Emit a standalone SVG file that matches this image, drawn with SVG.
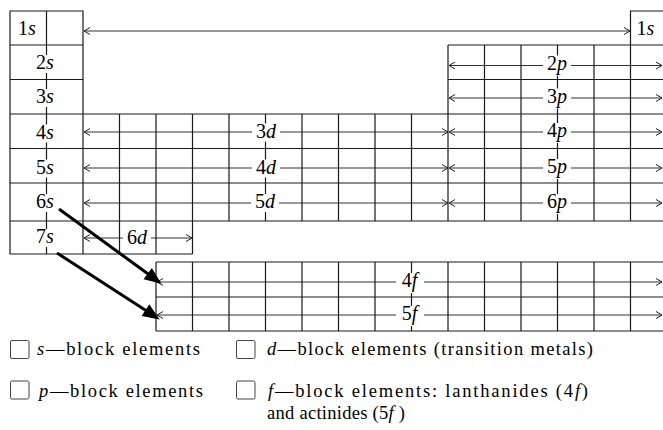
<svg xmlns="http://www.w3.org/2000/svg" width="663" height="430" viewBox="0 0 663 430">
<style>
.g{fill:none;stroke:#1a1a1a;stroke-width:1.2}
.a{fill:none;stroke:#333;stroke-width:1;marker-start:url(#ch);marker-end:url(#ch)}
.big{fill:none;stroke:#000;stroke-width:3;marker-end:url(#bh)}
.bg{fill:#fff;stroke:none}
.l{font-family:"Liberation Serif","Times New Roman",serif;font-size:20px;fill:#000;text-anchor:middle}
.i{font-style:italic}
.lg{font-family:"Liberation Serif","Times New Roman",serif;font-size:18.5px;fill:#000}
.bx{fill:#fff;stroke:#444;stroke-width:1}
</style>
<defs>
<marker id="ch" viewBox="-8 -5 10 10" refX="0" refY="0" markerWidth="10" markerHeight="10" markerUnits="userSpaceOnUse" orient="auto-start-reverse"><path d="M-6,-3.5 L0,0 L-6,3.5" fill="none" stroke="#222" stroke-width="1"/></marker>
<marker id="bh" viewBox="-10 -8 20 16" refX="-8" refY="0" markerWidth="20" markerHeight="16" markerUnits="userSpaceOnUse" orient="auto"><path d="M-9,-7 L8,0 L-9,7 Z" fill="#000"/></marker>
</defs>
<rect width="663" height="430" fill="#fff"/>

<g id="connectors">
<path class="a" d="M84,31 H630"/>
<path class="a" d="M449,65.5 H662"/>
<path class="a" d="M449,98 H662"/>
<path class="a" d="M84,132 H448"/>
<path class="a" d="M449,132 H662"/>
<path class="a" d="M84,168 H448"/>
<path class="a" d="M449,168 H662"/>
<path class="a" d="M84,203 H448"/>
<path class="a" d="M449,203 H662"/>
<path class="a" d="M84,238 H192"/>
<path class="a" d="M157,282 H662"/>
<path class="a" d="M157,315 H662"/>
</g>

<g id="s-block">
<path class="g" d="M10,11 H83 V254 H10 Z M10,45 H83 M10,79.5 H83 M10,114 H83 M10,148.5 H83 M10,183 H83 M10,221 H83 M46.5,11 V254"/>
<rect class="bg" x="33" y="55" width="25" height="18"/>
<rect class="bg" x="33" y="89" width="25" height="18"/>
<rect class="bg" x="33" y="124.5" width="25" height="18"/>
<rect class="bg" x="33" y="159.5" width="25" height="18"/>
<rect class="bg" x="33" y="194" width="25" height="18"/>
<rect class="bg" x="33" y="229" width="25" height="18"/>
<text class="l" x="27" y="35">1<tspan class="i">s</tspan></text>
<text class="l" x="45" y="69">2<tspan class="i">s</tspan></text>
<text class="l" x="45" y="103">3<tspan class="i">s</tspan></text>
<text class="l" x="45" y="138.5">4<tspan class="i">s</tspan></text>
<text class="l" x="45" y="173.5">5<tspan class="i">s</tspan></text>
<text class="l" x="45" y="208">6<tspan class="i">s</tspan></text>
<text class="l" x="45" y="243">7<tspan class="i">s</tspan></text>
</g>

<g id="s-block-1s-right">
<path class="g" d="M630.5,45 V11 H667"/>
<text class="l" x="645.5" y="35">1<tspan class="i">s</tspan></text>
</g>

<g id="d-block">
<path class="g" d="M83,114 H448 M83,148.5 H448 M83,183 H448 M83,221 H448 M119.5,114 V254 M156,114 V254 M192.5,114 V254 M229,114 V221 M265.5,114 V221 M302,114 V221 M338.5,114 V221 M375,114 V221 M411.5,114 V221 M83,254 H192.5"/>
<rect class="bg" x="252" y="123.5" width="28" height="18"/>
<rect class="bg" x="252" y="159.5" width="28" height="18"/>
<rect class="bg" x="251" y="194" width="28" height="18"/>
<rect class="bg" x="123" y="229.5" width="28" height="18"/>
<text class="l" x="266" y="137.5">3<tspan class="i">d</tspan></text>
<text class="l" x="266" y="173.5">4<tspan class="i">d</tspan></text>
<text class="l" x="265" y="208">5<tspan class="i">d</tspan></text>
<text class="l" x="137" y="243.5">6<tspan class="i">d</tspan></text>
</g>

<g id="p-block">
<path class="g" d="M448,45 H667 M448,79.5 H667 M448,114 H667 M448,148.5 H667 M448,183 H667 M448,221 H667 M448,45 V221 M484.5,45 V221 M521,45 V221 M557.5,45 V221 M594,45 V221 M630.5,45 V221"/>
<rect class="bg" x="543" y="55.5" width="28" height="20"/>
<rect class="bg" x="543" y="88.5" width="28" height="20"/>
<rect class="bg" x="543" y="123" width="28" height="20"/>
<rect class="bg" x="543" y="159" width="28" height="20"/>
<rect class="bg" x="543" y="194" width="28" height="20"/>
<text class="l" x="557" y="69.5">2<tspan class="i">p</tspan></text>
<text class="l" x="557" y="102.5">3<tspan class="i">p</tspan></text>
<text class="l" x="557" y="137">4<tspan class="i">p</tspan></text>
<text class="l" x="557" y="173">5<tspan class="i">p</tspan></text>
<text class="l" x="557" y="208">6<tspan class="i">p</tspan></text>
</g>

<g id="f-block">
<path class="g" d="M156,262 H667 M156,297 H667 M156,331 H667 M156,262 V331 M192.5,262 V331 M229,262 V331 M265.5,262 V331 M302,262 V331 M338.5,262 V331 M375,262 V331 M411.5,262 V331 M448,262 V331 M484.5,262 V331 M521,262 V331 M557.5,262 V331 M594,262 V331 M630.5,262 V331"/>
<rect class="bg" x="396" y="273" width="28" height="20"/>
<rect class="bg" x="396" y="306" width="28" height="20"/>
<text class="l" x="409.5" y="287">4<tspan class="i">f</tspan></text>
<text class="l" x="409.5" y="320">5<tspan class="i">f</tspan></text>
</g>

<g id="thick-arrows">
<path class="big" d="M59,209 L148.5,274.3"/>
<path class="big" d="M57,253 L146.3,310.7"/>
</g>

<g id="legend-s">
<rect class="bx" x="10.5" y="340.5" width="18.5" height="18" rx="1.5"/>
<text class="lg" x="37" y="355" textLength="163" lengthAdjust="spacing"><tspan class="i">s</tspan>—block elements</text>
</g>
<g id="legend-d">
<rect class="bx" x="236.5" y="340.5" width="18.5" height="18" rx="1.5"/>
<text class="lg" x="267" y="355" textLength="326" lengthAdjust="spacing"><tspan class="i">d</tspan>—block elements (transition metals)</text>
</g>
<g id="legend-p">
<rect class="bx" x="10.5" y="381" width="18.5" height="18" rx="1.5"/>
<text class="lg" x="39" y="397" textLength="164" lengthAdjust="spacing"><tspan class="i">p</tspan>—block elements</text>
</g>
<g id="legend-f">
<rect class="bx" x="236.5" y="381" width="18.5" height="18" rx="1.5"/>
<text class="lg" x="268" y="397" textLength="320" lengthAdjust="spacing"><tspan class="i">f</tspan>—block elements:  lanthanides (4<tspan class="i">f</tspan>)</text>
<text class="lg" x="267" y="419" textLength="138" lengthAdjust="spacing">and actinides (5<tspan class="i">f</tspan> )</text>
</g>
</svg>
